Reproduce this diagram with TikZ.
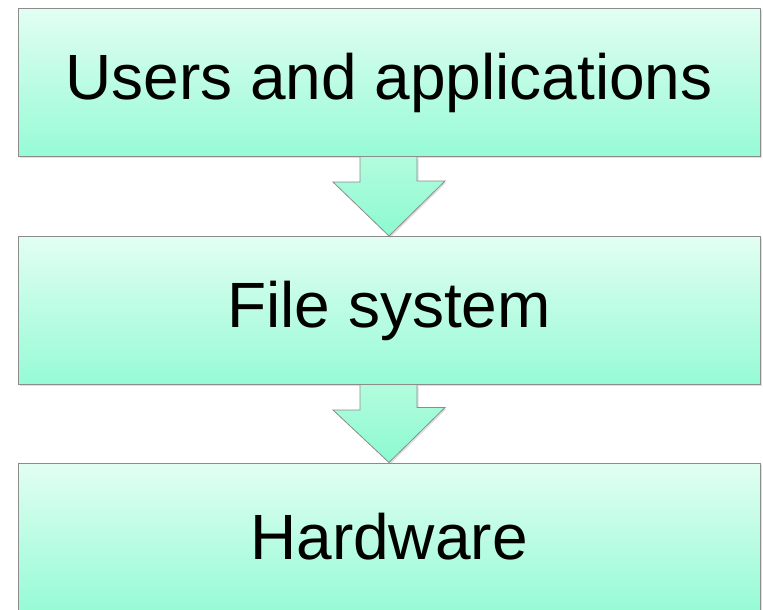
\documentclass[tikz,border=0pt]{standalone}
\usepackage{fontspec}
\setmainfont{Liberation Sans}
\usetikzlibrary{shadows}
\definecolor{boxtop}{RGB}{226,254,242}
\definecolor{boxbot}{RGB}{150,251,214}
\definecolor{arrtop}{RGB}{178,252,222}
\definecolor{arrbot}{RGB}{140,250,208}
\tikzset{
	layer/.style={draw=gray!90,line width=1pt,top color=boxtop,bottom color=boxbot,minimum width=742pt,minimum height=148pt,font=\fontsize{64}{70}\selectfont,drop shadow={opacity=.25,shadow xshift=1.5pt,shadow yshift=-1.5pt}},
	flowarrow/.style={draw=gray!90,line width=.8pt,line join=miter,top color=arrtop,bottom color=arrbot,drop shadow={opacity=.25,shadow xshift=1.5pt,shadow yshift=-1.5pt}}
}
\begin{document}
\begin{tikzpicture}[x=1pt,y=-1pt]
			\useasboundingbox (0,0) rectangle (763,610);
			\node[layer] (users) at (389,82.5) {Users and applications};
			\node[layer] (fs) at (389,310.5) {File system};
			\node[layer] (hw) at (389,537) {Hardware};
			\draw[flowarrow] ([xshift=-29pt]users.south) -- ++(0,25) -- ++(-27,0) -- (fs.north) -- ++(56,-55) -- ++(-28,0) -- ([xshift=28pt]users.south);
			\draw[flowarrow] ([xshift=-29pt]fs.south) -- ++(0,25) -- ++(-27,0) -- (hw.north) -- ++(56,-55) -- ++(-28,0) -- ([xshift=28pt]fs.south);
		\end{tikzpicture}
\end{document}
